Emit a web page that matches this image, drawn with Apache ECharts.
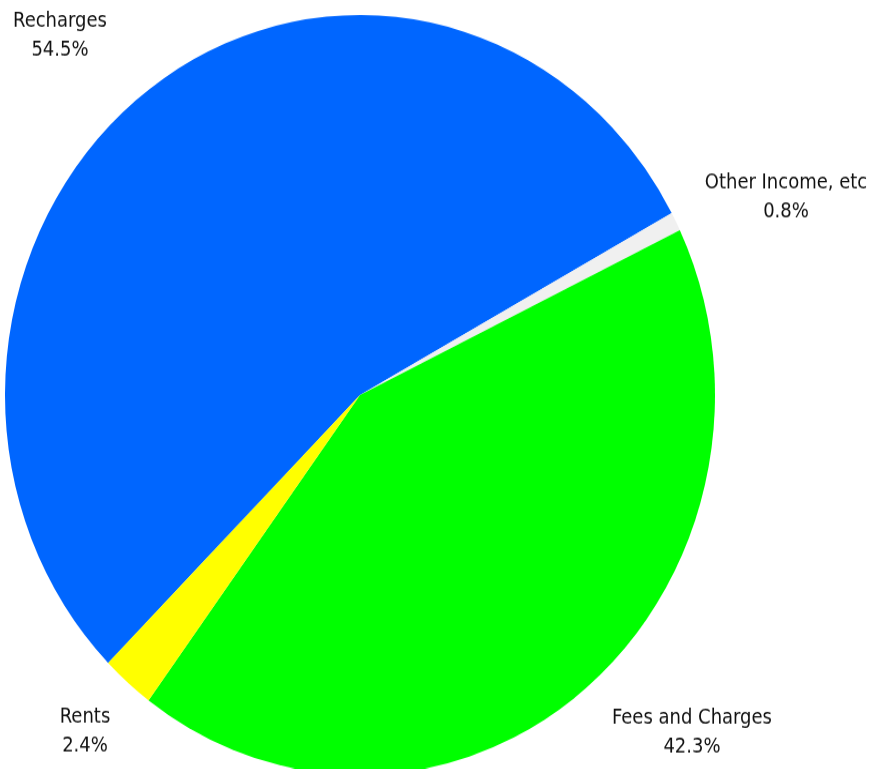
<!DOCTYPE html>
<html>
<head>
<meta charset="utf-8">
<script src="https://cdn.jsdelivr.net/npm/echarts@6/dist/echarts.min.js"></script>
<style>
  html, body { margin: 0; padding: 0; background: #ffffff; }
  body { width: 875px; height: 769px; position: relative; }
  /* chart drawn at a shorter height, then stretched vertically */
  #chart { position: absolute; left: 0; top: 0; width: 875px; height: 718px; transform: scaleY(1.0705); transform-origin: 0 0; }
</style>
</head>
<body>
<div id="chart"></div>
<script>
// Income breakdown (percent of total)
const categories = ['Recharges', 'Other Income, etc', 'Fees and Charges', 'Rents'];
const shares = [54.5, 0.8, 42.3, 2.4];
const colors = ['#0066FF', '#F0F0F0', '#00FF00', '#FFFF00'];

// label anchor points (chart pixels)
const labelSpots = [[60, 33], [786, 184], [692, 684], [85, 683]];

const chart = echarts.init(document.getElementById('chart'), null, { renderer: 'canvas' });
chart.setOption({
  animation: false,
  backgroundColor: '#ffffff',
  series: [{
    type: 'pie',
    center: [360, 369],
    radius: 355,
    startAngle: 224.8,
    clockwise: true,
    percentPrecision: 1,
    avoidLabelOverlap: false,
    data: categories.map((name, i) => ({
      name: name,
      value: shares[i],
      itemStyle: { color: colors[i] }
    })),
    itemStyle: { borderWidth: 0 },
    label: {
      show: true,
      position: 'outside',
      formatter: '{b}\n{d}%',
      fontFamily: '"Liberation Sans Narrow", "DejaVu Sans Condensed", "Open Sans", sans-serif',
      fontSize: 20,
      lineHeight: 27,
      color: '#111111',
      align: 'center'
    },
    labelLine: { show: false },
    labelLayout: function (params) {
      const p = labelSpots[params.dataIndex];
      return { x: p[0], y: p[1], align: 'center', verticalAlign: 'middle' };
    },
    emphasis: { disabled: true }
  }]
});
</script>
</body>
</html>
